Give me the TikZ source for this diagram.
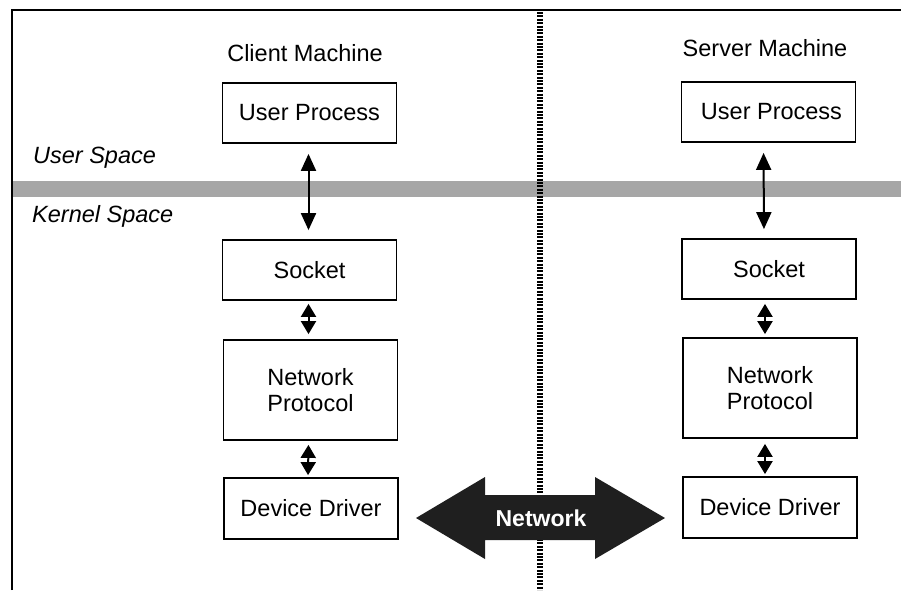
\documentclass[tikz,border=0pt]{standalone}
\usepackage{fontspec}
\setmainfont{Liberation Sans}
\usetikzlibrary{arrows.meta}
\begin{document}
\begin{tikzpicture}[x=1pt,y=-1pt,
  every node/.style={font=\fontsize{23.5}{26}\selectfont},
  box/.style={draw,line width=1.8pt,minimum width=174pt,inner sep=0pt,align=center},
  lbl/.style={inner sep=0pt},
  longarr/.style={line width=2pt,{Triangle[width=15pt,length=17pt]}-{Triangle[width=15pt,length=17pt]}},
  shortarr/.style={line width=2pt,{Triangle[width=15pt,length=13pt]}-{Triangle[width=15pt,length=13pt]}}]
\useasboundingbox (0,0) rectangle (901,590);
% hatched band
\fill[gray!70] (12,181) rectangle (901,197);
% frame
\draw[line width=2pt] (12,590) -- (12,10) -- (901,10);
% vertical divider
\draw[line width=6pt,dash pattern=on 2pt off 1.4pt] (540,12) -- (540,590);
% labels
\node[lbl] (cm) at (305,53) {Client Machine};
\node[lbl] (sm) at (765,48) {Server Machine};
\node[lbl,anchor=west,font=\fontsize{23.5}{26}\selectfont\itshape] (us) at (33,158) {User Space};
\node[lbl,anchor=west,font=\fontsize{23.5}{26}\selectfont\itshape] (ks) at (32,216) {Kernel Space};
% client
\node[box,minimum height=60pt] (cup) at (309.5,113) {User Process};
\node[box,minimum height=60pt] (cso) at (309.5,270) {Socket};
\node[box,minimum height=100pt] (cnp) at (310.5,390) {Network\\Protocol};
\node[box,minimum height=61pt] (cdd) at (311,508.5) {Device Driver};
% server
\node[box,minimum height=60pt] (sup) at (768.5,112) {\hspace*{6pt}User Process};
\node[box,minimum height=60pt] (sso) at (769,269) {Socket};
\node[box,minimum height=100pt] (snp) at (770,388) {Network\\Protocol};
\node[box,minimum height=61pt] (sdd) at (770,507.5) {Device Driver};
% vertical arrows
\draw[longarr,shorten <=10pt,shorten >=9pt] ([xshift=-1pt]cup.south) -- ([xshift=-1pt]cso.north);
\draw[shortarr,shorten <=3pt,shorten >=5pt] ([xshift=-1pt]cso.south) -- ([xshift=-2pt]cnp.north);
\draw[shortarr,shorten <=4pt,shorten >=2pt] ([xshift=-2pt]cnp.south) -- ([xshift=-3pt]cdd.north);
\draw[longarr,shorten <=10pt,shorten >=9pt] ([xshift=-5pt]sup.south) -- ([xshift=-5pt]sso.north);
\draw[shortarr,shorten <=4pt,shorten >=3pt] ([xshift=-4pt]sso.south) -- ([xshift=-5pt]snp.north);
\draw[shortarr,shorten <=5pt,shorten >=2pt] ([xshift=-5pt]snp.south) -- ([xshift=-5pt]sdd.north);
% network arrow
\fill[black!88] (416,518) -- (485,477) -- (485,495) -- (595,495) -- (595,477) -- (665,518)
  -- (595,559) -- (595,540) -- (485,540) -- (485,559) -- cycle;
\node[lbl,text=white,font=\fontsize{23}{26}\selectfont\bfseries] (net) at (541,518) {Network};
\end{tikzpicture}
\end{document}
